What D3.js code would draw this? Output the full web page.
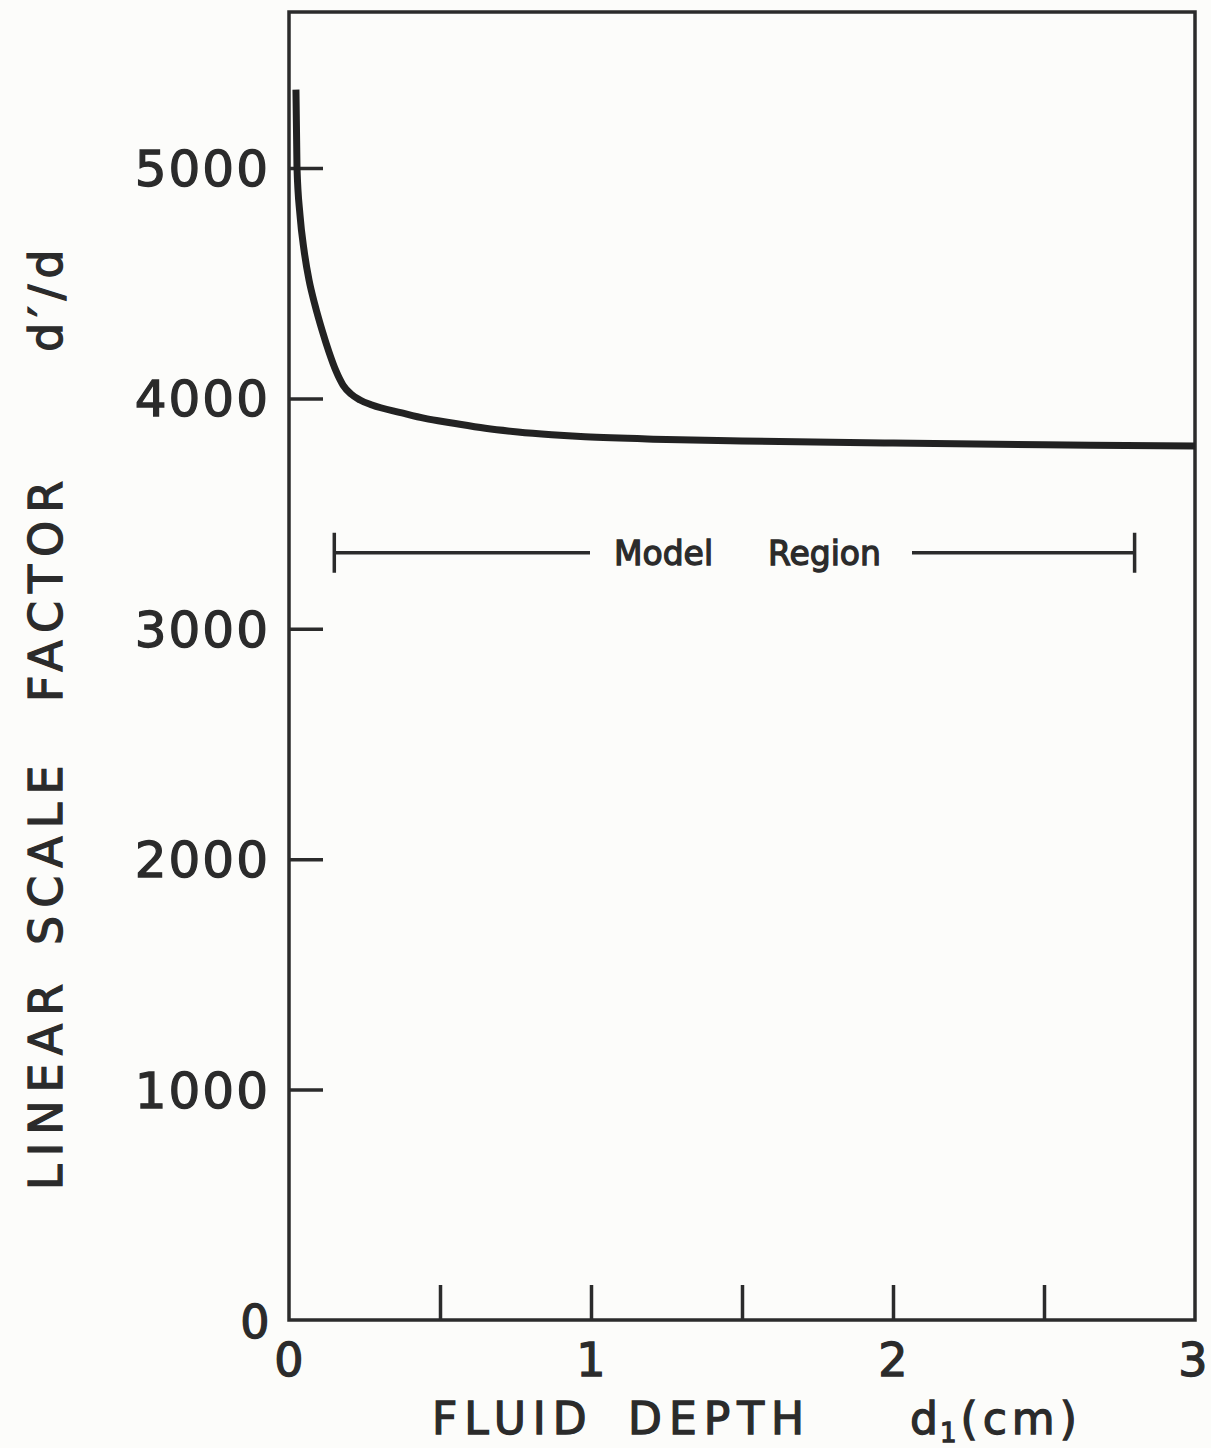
<!DOCTYPE html>
<html>
<head>
<meta charset="utf-8">
<script src="https://cdn.jsdelivr.net/npm/d3@7"></script>
<style>
  body { margin: 0; background: #fcfcfa; }
  svg { display: block; }
  text { fill: #2b2b2b; stroke: #2b2b2b; stroke-width: 1.3; font-family: "DejaVu Sans", sans-serif; }
</style>
</head>
<body>
<div id="chart"></div>
<script>
// curve: fluid depth (cm) -> linear scale factor d'/d
const depth = [0.023, 0.0265, 0.0364, 0.0497, 0.0662, 0.0861, 0.1093, 0.1325, 0.1556, 0.1788, 0.2053, 0.2351, 0.2748, 0.374, 0.45, 0.54, 0.65, 0.758, 0.87, 0.98, 1.25, 1.5, 2.0, 2.5, 3.0];
const factor = [5340, 5000, 4796, 4644, 4514, 4405, 4297, 4201, 4119, 4058, 4019, 3993, 3971, 3937, 3913, 3893, 3870, 3854, 3842, 3833, 3822, 3815, 3806, 3799, 3793];

const yTicks = [1000, 2000, 3000, 4000, 5000];
const xTicks = [0.5, 1, 1.5, 2, 2.5];
const xLabels = [0, 1, 2, 3];

// model region bracket
const modelRegion = [0.15, 2.8];
const modelLevel = 3330;

const width = 1211, height = 1448;
const plotLeft = 289, plotRight = 1195, plotTop = 12, plotBottom = 1320;
const ink = '#2b2b2b';

const svg = d3.select('#chart')
  .append('svg')
  .attr('width', width)
  .attr('height', height);

const x = d3.scaleLinear().domain([0, 3]).range([plotLeft, plotRight]);
const y = d3.scaleLinear().domain([0, 5677]).range([plotBottom, plotTop]);

// frame
svg.append('rect')
  .attr('x', plotLeft).attr('y', plotTop)
  .attr('width', plotRight - plotLeft).attr('height', plotBottom - plotTop)
  .attr('fill', 'none')
  .attr('stroke', ink)
  .attr('stroke-width', 3.5);

// Y axis (ticks inward)
const yAxis = svg.append('g')
  .attr('transform', 'translate(' + plotLeft + ',0)')
  .call(d3.axisRight(y).tickValues(yTicks).tickSize(34).tickFormat(''));
yAxis.select('.domain').remove();
yAxis.selectAll('line').attr('stroke', ink).attr('stroke-width', 3.5);

svg.append('g').selectAll('text')
  .data(yTicks)
  .enter()
  .append('text')
  .attr('x', 270)
  .attr('y', d => y(d) + 18)
  .attr('text-anchor', 'end')
  .attr('font-size', 50)
  .attr('letter-spacing', 2)
  .text(d => d);

svg.append('text')
  .attr('x', 255).attr('y', 1338)
  .attr('text-anchor', 'middle')
  .attr('font-size', 46)
  .text('0');

// X axis (ticks upward)
const xAxis = svg.append('g')
  .attr('transform', 'translate(0,' + plotBottom + ')')
  .call(d3.axisTop(x).tickValues(xTicks).tickSize(35).tickFormat(''));
xAxis.select('.domain').remove();
xAxis.selectAll('line').attr('stroke', ink).attr('stroke-width', 3.5);

svg.append('g').selectAll('text')
  .data(xLabels)
  .enter()
  .append('text')
  .attr('x', d => x(d) - (d === 3 ? 2 : 0))
  .attr('y', 1376)
  .attr('text-anchor', 'middle')
  .attr('font-size', 46)
  .text(d => d);

// axis titles
const xTitle = svg.append('text')
  .attr('y', 1434)
  .attr('font-size', 44)
  .attr('letter-spacing', 7);
xTitle.append('tspan').attr('x', 432).text('FLUID');
xTitle.append('tspan').attr('x', 628).text('DEPTH');
xTitle.append('tspan').attr('x', 910).attr('letter-spacing', 2).text('d');
xTitle.append('tspan').attr('font-size', 26).attr('dy', 8).attr('letter-spacing', 4).text('1');
xTitle.append('tspan').attr('dy', -8).attr('letter-spacing', 5).text('(cm)');

const yTitle = svg.append('text')
  .attr('transform', 'translate(62,0) rotate(-90)')
  .attr('font-size', 46)
  .attr('letter-spacing', 8);
yTitle.append('tspan').attr('x', -1190).text('LINEAR');
yTitle.append('tspan').attr('x', -945).text('SCALE');
yTitle.append('tspan').attr('x', -702).text('FACTOR');
yTitle.append('tspan').attr('x', -352).attr('letter-spacing', 6).text('d\u2032/d');

// model region bracket
const mr = svg.append('g');
mr.append('line')
  .attr('x1', x(modelRegion[0])).attr('x2', 590)
  .attr('y1', y(modelLevel)).attr('y2', y(modelLevel))
  .attr('stroke', ink).attr('stroke-width', 3.5);
mr.append('line')
  .attr('x1', 912).attr('x2', x(modelRegion[1]))
  .attr('y1', y(modelLevel)).attr('y2', y(modelLevel))
  .attr('stroke', ink).attr('stroke-width', 3.5);
mr.selectAll('.cap')
  .data(modelRegion)
  .enter()
  .append('line')
  .attr('x1', d => x(d)).attr('x2', d => x(d))
  .attr('y1', y(modelLevel) - 20).attr('y2', y(modelLevel) + 20)
  .attr('stroke', ink).attr('stroke-width', 3.5);
const mrText = mr.append('text')
  .attr('y', y(modelLevel) + 12)
  .attr('font-size', 33)
  .attr('stroke-width', 0.8)
  .attr('font-family', '"Liberation Sans", Arial, sans-serif');
mrText.append('tspan').attr('x', 614).text('Model');
mrText.append('tspan').attr('x', 768).text('Region');

// curve
const line = d3.line()
  .x(d => x(d[0]))
  .y(d => y(d[1]))
  .curve(d3.curveMonotoneX);

svg.append('path')
  .datum(d3.zip(depth, factor))
  .attr('d', line)
  .attr('fill', 'none')
  .attr('stroke', '#222')
  .attr('stroke-width', 7)
  .attr('stroke-linecap', 'butt');
</script>
</body>
</html>
